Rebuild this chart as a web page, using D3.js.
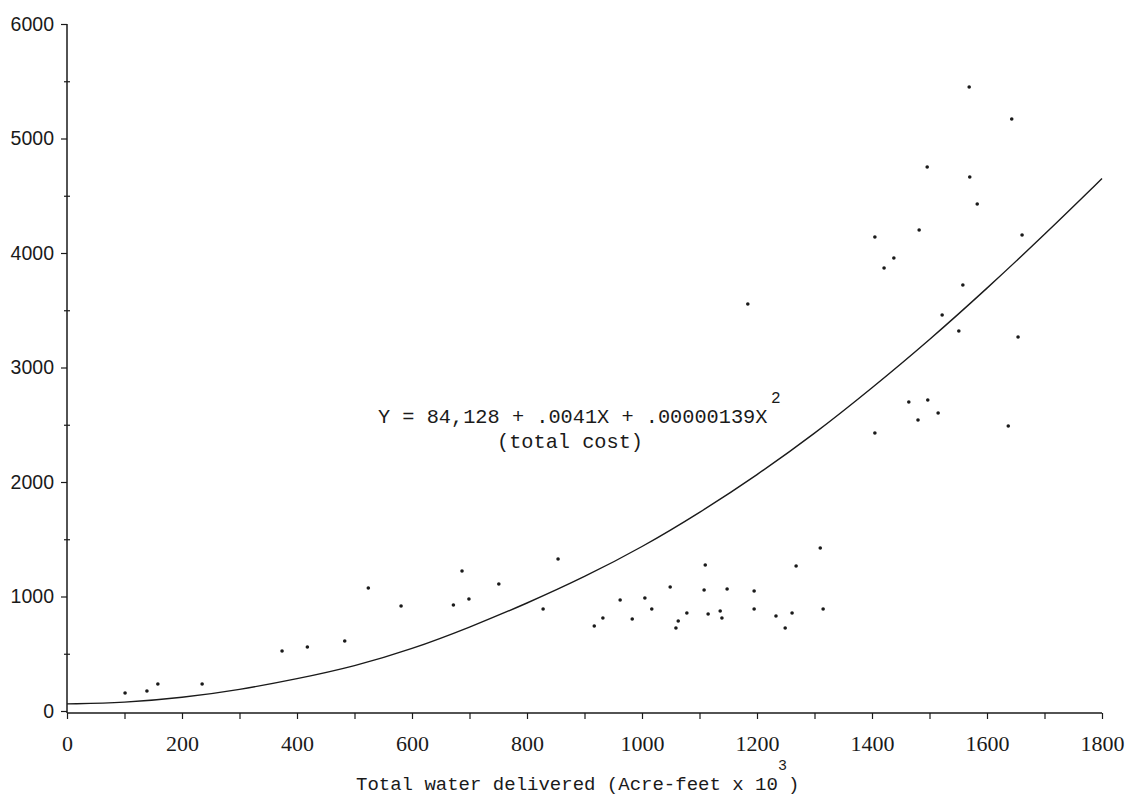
<!DOCTYPE html>
<html>
<head>
<meta charset="utf-8">
<script src="https://cdn.jsdelivr.net/npm/d3@7"></script>
<style>
  body { margin: 0; background: #fff; }
</style>
</head>
<body>
<script>
// observed points (water delivered, cost)
var waterX = [101, 139, 158, 235, 374, 418, 483,
    524, 581, 672, 687, 699, 751, 828, 854,
    917, 932, 962, 983, 1005, 1017, 1049, 1059, 1063, 1078, 1108, 1110, 1115, 1136, 1139, 1148,
    1184, 1195, 1195, 1233, 1249, 1261, 1268, 1310, 1315,
    1405, 1405, 1421, 1438, 1464, 1480, 1482, 1496, 1497, 1515, 1522, 1551, 1558, 1569, 1570,
    1583, 1637, 1643, 1654, 1661];
var costY = [157, 175, 236, 236, 524, 559, 611,
    1074, 917, 926, 1223, 978, 1109, 891, 1328,
    742, 812, 969, 803, 987, 891, 1083, 725, 786, 856, 1057, 1275, 847, 873, 812, 1066,
    3555, 1048, 891, 830, 725, 856, 1266, 1424, 891,
    4140, 2428, 3869, 3956, 2699, 2541, 4201, 4751, 2716, 2603, 3459, 3319, 3721, 5450, 4664,
    4428, 2489, 5170, 3266, 4157];

// fitted total cost curve
var curveX = [0, 100, 200, 300, 400, 500, 600, 700, 800, 900, 1000, 1100, 1200, 1300, 1400, 1500, 1600, 1700, 1800];
var curveY = [62, 72, 115, 185, 280, 390, 540, 730, 940, 1170, 1430, 1730, 2060, 2420, 2820, 3240, 3690, 4160, 4650];

var xTicks = [0, 200, 400, 600, 800, 1000, 1200, 1400, 1600, 1800];
var yTicks = [0, 1000, 2000, 3000, 4000, 5000, 6000];

var width = 1135, height = 810;

var svg = d3.select("body").append("svg")
    .attr("width", width)
    .attr("height", height);

var x = d3.scaleLinear().domain([0, 1800]).range([67, 1102]);
var y = d3.scaleLinear().domain([0, 6000]).range([711, 24]);

var ink = "#1a1a1a";

// x axis
var xAxis = d3.axisBottom(x)
    .tickValues(d3.range(0, 1801, 100))
    .tickSize(6)
    .tickFormat(function(d) { return xTicks.indexOf(d) >= 0 ? d : ""; });
var gx = svg.append("g")
    .attr("transform", "translate(0," + (y(0) + 2) + ")")
    .call(xAxis);
gx.select(".domain").attr("d", "M" + x(0) + ",0H" + x(1800)).attr("stroke", ink).attr("stroke-width", 1.5);
gx.selectAll(".tick line").attr("stroke", ink).attr("stroke-width", 1.2);
gx.selectAll(".tick text")
    .attr("y", 22)
    .attr("dy", "0.71em")
    .attr("fill", ink)
    .attr("font-family", "Liberation Serif")
    .attr("font-size", "22px");

// y axis
var yAxis = d3.axisLeft(y)
    .tickValues(d3.range(0, 6001, 500))
    .tickSize(0)
    .tickFormat(function(d) { return yTicks.indexOf(d) >= 0 ? d : ""; });
var gy = svg.append("g")
    .attr("transform", "translate(" + x(0) + ",0)")
    .call(yAxis);
gy.select(".domain").attr("d", "M0," + y(6000) + "V" + (y(0) + 2)).attr("stroke", ink).attr("stroke-width", 1.5);
gy.selectAll(".tick line")
    .attr("x1", function(d) { return yTicks.indexOf(d) >= 0 ? -6 : -3; })
    .attr("x2", function(d) { return yTicks.indexOf(d) >= 0 ? 0 : 3; })
    .attr("stroke", ink)
    .attr("stroke-width", 1.2);
gy.selectAll(".tick text")
    .attr("x", -13)
    .attr("fill", ink)
    .attr("font-family", "Liberation Sans")
    .attr("font-size", "19.5px");

// fitted curve
var line = d3.line()
    .x(function(d, i) { return x(curveX[i]); })
    .y(function(d, i) { return y(curveY[i]); })
    .curve(d3.curveBasis);

svg.append("path")
    .datum(curveX)
    .attr("d", line)
    .attr("fill", "none")
    .attr("stroke", ink)
    .attr("stroke-width", 1.4);

// data points
svg.selectAll("circle.pt")
    .data(waterX)
    .enter()
    .append("circle")
    .attr("class", "pt")
    .attr("cx", function(d) { return x(d); })
    .attr("cy", function(d, i) { return y(costY[i]); })
    .attr("r", 1.8)
    .attr("fill", ink);

// equation label
svg.append("text")
    .attr("x", 378)
    .attr("y", 423)
    .attr("fill", ink)
    .attr("font-family", "Liberation Mono")
    .attr("font-size", "20.3px")
    .text("Y = 84,128 + .0041X + .00000139X");
svg.append("text")
    .attr("x", 771)
    .attr("y", 403)
    .attr("fill", ink)
    .attr("font-family", "Liberation Mono")
    .attr("font-size", "16px")
    .text("2");

svg.append("text")
    .attr("x", 570)
    .attr("y", 448)
    .attr("text-anchor", "middle")
    .attr("fill", ink)
    .attr("font-family", "Liberation Mono")
    .attr("font-size", "20.3px")
    .text("(total cost)");

// axis title
svg.append("text")
    .attr("x", 356)
    .attr("y", 790)
    .attr("fill", ink)
    .attr("font-family", "Liberation Mono")
    .attr("font-size", "19px")
    .text("Total water delivered (Acre-feet x 10");
svg.append("text")
    .attr("x", 778)
    .attr("y", 770)
    .attr("fill", ink)
    .attr("font-family", "Liberation Mono")
    .attr("font-size", "15px")
    .text("3");
svg.append("text")
    .attr("x", 788)
    .attr("y", 790)
    .attr("fill", ink)
    .attr("font-family", "Liberation Mono")
    .attr("font-size", "19px")
    .text(")");
</script>
</body>
</html>
